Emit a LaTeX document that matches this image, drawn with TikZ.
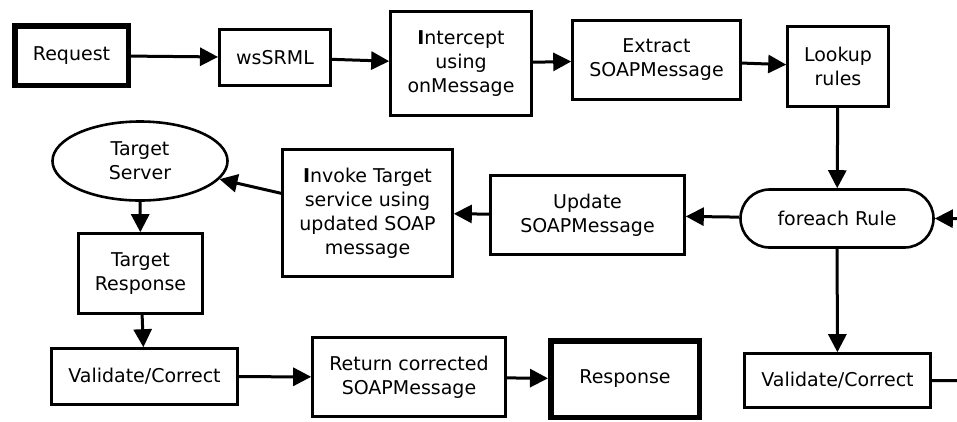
\documentclass[tikz,border=0pt]{standalone}
\usepackage{fontspec}
\setmainfont{DejaVu Sans}
\usetikzlibrary{arrows.meta,shapes.geometric}

\tikzset{
  box/.style={draw, line width=2.6pt, rectangle, inner sep=0pt, align=center,
              font=\fontsize{19}{24}\selectfont},
  heavybox/.style={box, line width=5.5pt},
  oval/.style={draw, line width=2.6pt, ellipse, inner sep=0pt, align=center,
              font=\fontsize{19}{24}\selectfont},
  pill/.style={box, rounded corners=29pt},
  flow/.style={line width=3pt, -{Triangle[length=18pt,width=18pt]}},
  plainflow/.style={line width=3pt},
}

\begin{document}
\begin{tikzpicture}[x=1pt, y=-1pt]
  \useasboundingbox (0,0) rectangle (957,421);
  \clip (0,0) rectangle (957,421);

  % top row
  \node[heavybox, minimum width=113.5pt, minimum height=59.5pt] (req) at (71.5,55.5) {Request};
  \node[box, minimum width=111.4pt, minimum height=56.4pt] (ws) at (275,57.5) {wsSRML};
  \node[box, minimum width=141pt, minimum height=104pt] (icpt) at (461,63.5) {{\bfseries I}ntercept\\using\\onMessage};
  \node[box, minimum width=168pt, minimum height=79pt] (extr) at (656.5,60) {Extract\\SOAPMessage};
  \node[box, minimum width=101pt, minimum height=80pt] (look) at (838,66.5) {Lookup\\rules};

  % middle row
  \node[pill, minimum width=193pt, minimum height=58pt] (each) at (837,218.5) {foreach Rule};
  \node[box, minimum width=194pt, minimum height=79pt] (upd) at (587.5,215) {Update\\SOAPMessage};
  \node[box, minimum width=170pt, minimum height=127pt] (inv) at (367.5,213) {{\bfseries I}nvoke Target\\service using\\updated SOAP\\message};
  \node[oval, minimum width=175pt, minimum height=79pt] (srv) at (140,161) {Target\\Server};
  \node[box, minimum width=124pt, minimum height=80pt] (tresp) at (140.5,273.5) {Target\\Response};

  % bottom row
  \node[box, minimum width=186pt, minimum height=56pt] (valA) at (144.5,376.5) {Validate/Correct};
  \node[box, minimum width=193pt, minimum height=79pt] (ret) at (409,377) {Return corrected\\SOAPMessage};
  \node[heavybox, minimum width=148.5pt, minimum height=76.5pt] (resp) at (625,379) {Response};
  \node[box, minimum width=186pt, minimum height=54pt] (valB) at (837.5,380.5) {Validate/Correct};

  % loop ends running past the right edge
  \coordinate (loopout) at (990,381);
  \coordinate (loopin) at (990,219);

  % connectors
  \draw[flow] (req) -- (ws);
  \draw[flow] (ws) -- (icpt);
  \draw[flow] (icpt) -- (extr);
  \draw[flow] (extr) -- (look);
  \draw[flow] (look) -- (each);
  \draw[flow] (each) -- (upd);
  \draw[flow] (upd) -- (inv);
  \draw[flow] (inv) -- (srv);
  \draw[flow] (srv) -- (tresp);
  \draw[flow] (tresp) -- (valA);
  \draw[flow] (valA) -- (ret);
  \draw[flow] (ret) -- (resp);
  \draw[flow] (each) -- (valB);
  \draw[plainflow] (valB.east) -- (loopout);
  \draw[flow] (loopin) -- (each.east);
\end{tikzpicture}
\end{document}
